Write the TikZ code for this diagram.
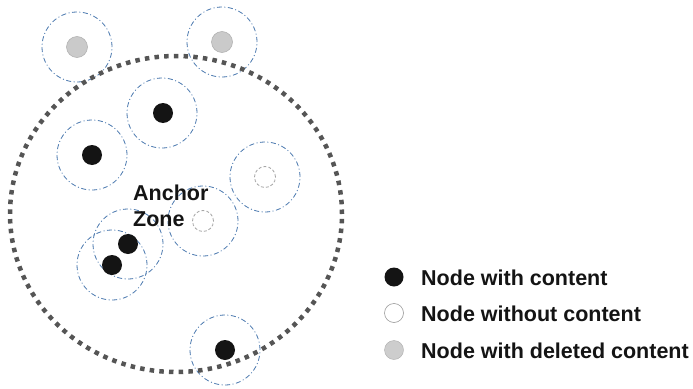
\documentclass[tikz,border=0pt]{standalone}
\usepackage{fontspec}
\setmainfont{Liberation Sans}
\definecolor{zoneblue}{HTML}{4A78AE}
\definecolor{dotblack}{HTML}{141414}
\definecolor{delgray}{HTML}{CACACA}
\definecolor{ringgray}{HTML}{555555}
\begin{document}
\begin{tikzpicture}[x=1pt,y=-1pt,
  zone/.style={circle, draw=zoneblue, line width=0.8pt, dash pattern=on 5pt off 2.5pt on 1pt off 2.5pt, minimum size=70pt, inner sep=0pt},
  full/.style={circle, fill=dotblack, minimum size=20pt, inner sep=0pt},
  empty/.style={circle, draw=gray!70, line width=0.8pt, dash pattern=on 3pt off 2pt, fill=white, minimum size=21pt, inner sep=0pt},
  deleted/.style={circle, fill=delgray, draw=delgray!85!black, line width=0.5pt, minimum size=21pt, inner sep=0pt},
  legfull/.style={circle, fill=dotblack, minimum size=19pt, inner sep=0pt},
  legempty/.style={circle, draw=gray!80, line width=0.6pt, fill=white, minimum size=19pt, inner sep=0pt},
  legdel/.style={circle, fill=delgray!95!white, draw=delgray!85!black, line width=0.4pt, minimum size=19pt, inner sep=0pt},
  lbl/.style={font=\fontsize{21.5}{26}\selectfont\bfseries, text=dotblack, inner sep=0pt, anchor=base west},
  ring/.style={draw=ringgray, line width=4.5pt, dash pattern=on 4.5pt off 5.2pt}
]
\useasboundingbox (0,0) rectangle (693,388);
% zones
\node[zone] (z1) at (77,47) {};
\node[zone] (z2) at (222,42) {};
\node[zone] (z3) at (162,113) {};
\node[zone] (z4) at (92,155) {};
\node[zone] (z5) at (265,177) {};
\node[zone] (z6) at (203,221) {};
\node[zone] (z7) at (128,244) {};
\node[zone] (z8) at (112,265) {};
\node[zone] (z9) at (225,350) {};
% anchor zone ring
\draw[ring] (176,214) ellipse [x radius=166pt, y radius=158pt];
% nodes
\node[deleted] (d1) at (77,47) {};
\node[deleted] (d2) at (222,42) {};
\node[full] (f1) at (163,113) {};
\node[full] (f2) at (92,155) {};
\node[empty] (e1) at (265,177) {};
\node[empty] (e2) at (203,221) {};
\node[full] (f3) at (128,244) {};
\node[full] (f4) at (112,265) {};
\node[full] (f5) at (225,350) {};
% label
\node[lbl] (t1) at (133,200) {Anchor};
\node[lbl] (t2) at (133,226) {Zone};
% legend
\node[legfull] (l1) at (394,277) {};
\node[legempty] (l2) at (394,313) {};
\node[legdel] (l3) at (394,350) {};
\node[lbl] (lt1) at (421,285) {Node with content};
\node[lbl] (lt2) at (421,321) {Node without content};
\node[lbl] (lt3) at (421,358) {Node with deleted content};
\end{tikzpicture}
\end{document}
